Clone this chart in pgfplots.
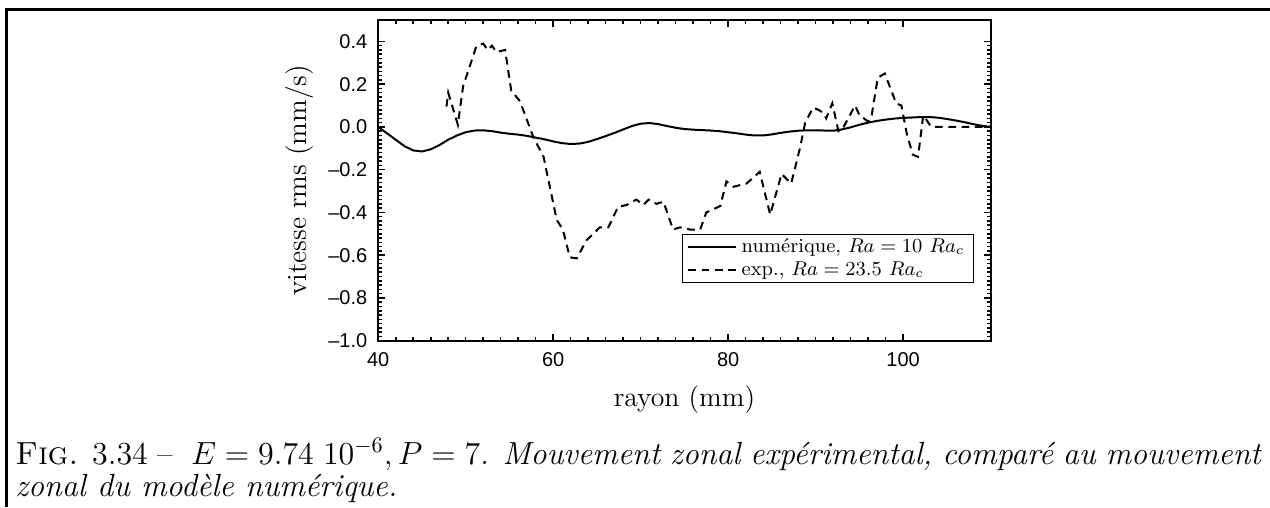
\documentclass[border=0pt]{standalone}
\usepackage{fontspec}
\usepackage{pgfplots}
\pgfplotsset{compat=1.18}
\newfontfamily\tickfont{Liberation Sans}
\begin{document}
\begin{tikzpicture}
\useasboundingbox (0,0) rectangle (571.5pt,-228.15pt);
\draw[line width=1.2pt] (2.9pt,-228.15pt) -- (2.9pt,-4.2pt) -- (571.5pt,-4.2pt);
\begin{axis}[
  at={(170.2pt,-153.3pt)}, anchor=south west,
  scale only axis, width=275.6pt, height=144.3pt,
  xmin=40, xmax=110, ymin=-1, ymax=0.5,
  xtick={40,60,80,100}, xticklabels={40,60,80,100},
  ytick={-1,-0.8,-0.6,-0.4,-0.2,0,0.2,0.4},
  yticklabels={–1.0,–0.8,–0.6,–0.4,–0.2,0.0,0.2,0.4},
  minor x tick num=9, minor y tick num=9,
  tick align=inside,
  major tick length=3.2pt, minor tick length=1.6pt,
  tick style={black, line width=0.7pt},
  line width=0.9pt,
  ticklabel style={font=\tickfont\fontsize{9}{10}\selectfont},
  yticklabel style={anchor=east, inner sep=0pt, xshift=-4.5pt},
  xticklabel style={anchor=north, inner sep=0pt, yshift=-5pt},
  xlabel={rayon (mm)},
  ylabel={vitesse rms (mm/s)},
  label style={font=\fontsize{12.5}{15}\selectfont},
  xlabel style={at={(axis description cs:0.5,-0.2037)}, anchor=base},
  ylabel style={at={(axis description cs:-0.1165,0.5)}, anchor=base},
  legend style={at={(axis description cs:0.9728,0.1795)}, anchor=south east,
    draw=black, line width=0.5pt, font=\fontsize{9}{10}\selectfont,
    inner xsep=2pt, inner ysep=0.2pt, row sep=0pt, cells={anchor=west},
    nodes={inner ysep=0.9pt, text height=0.68em, text depth=0.2em}},
  legend image code/.code={\draw[#1] (0pt,0pt) -- (21.6pt,0pt);},
]
\addplot[black, line width=0.9pt, solid] coordinates {
(40,0.0) (41,-0.03) (42,-0.06) (43,-0.09) (44,-0.11) (45,-0.115) (46,-0.105)
(47,-0.085) (48,-0.06) (49,-0.04) (50,-0.025) (51,-0.017) (52,-0.016) (53,-0.02)
(54,-0.027) (55,-0.032) (56,-0.036) (57,-0.042) (58,-0.05) (59,-0.058) (60,-0.068)
(61,-0.076) (62,-0.08) (63,-0.078) (64,-0.07) (65,-0.057) (66,-0.043) (67,-0.028)
(68,-0.012) (69,0.004) (70,0.015) (71,0.018) (72,0.013) (73,0.004) (74,-0.004)
(75,-0.01) (76,-0.013) (77,-0.015) (78,-0.017) (79,-0.02) (80,-0.025) (81,-0.03)
(82,-0.036) (83,-0.04) (84,-0.04) (85,-0.035) (86,-0.028) (87,-0.022) (88,-0.018)
(89,-0.016) (90,-0.016) (91,-0.017) (92,-0.018) (93,-0.012) (94,-0.002) (95,0.01)
(96,0.02) (97,0.028) (98,0.034) (99,0.039) (100,0.042) (101,0.044) (102,0.046)
(103,0.046) (104,0.043) (105,0.037) (106,0.03) (107,0.022) (108,0.013) (109,0.005)
(110,0.0)
};
\addlegendentry{numérique, $Ra = 10\ Ra_c$}
\addplot[black, line width=0.9pt, dash pattern=on 3.5pt off 2.5pt] coordinates {
(47.8,0.095) (48.0,0.16) (49.1,0.01) (49.7,0.19) (51.2,0.375) (52.0,0.39)
(52.5,0.36) (53.0,0.38) (53.5,0.35) (54.5,0.36) (55.2,0.17) (56.2,0.12)
(57.7,-0.045) (58.9,-0.14) (60.4,-0.435) (61.1,-0.48) (61.9,-0.61) (62.7,-0.615)
(63.8,-0.53) (64.6,-0.50) (65.3,-0.47) (66.3,-0.47) (67.4,-0.375) (68.4,-0.365)
(69.5,-0.34) (70.3,-0.365) (70.9,-0.34) (71.8,-0.36) (72.6,-0.35) (73.7,-0.48)
(74.5,-0.47) (75.6,-0.48) (76.8,-0.48) (77.5,-0.40) (79.1,-0.37) (79.8,-0.255)
(80.6,-0.28) (82.1,-0.265) (83.6,-0.21) (84.8,-0.41) (86.1,-0.22) (87.2,-0.265)
(88.2,-0.10) (88.8,0.02) (89.7,0.09) (90.3,0.08) (90.9,0.065) (91.2,0.04)
(91.9,0.11) (92.6,-0.02) (93.1,-0.007) (94.5,0.10) (95.0,0.055) (96.0,0.025)
(96.4,0.055) (97.1,0.23) (97.9,0.25) (99.2,0.11) (99.8,0.10) (100.4,-0.03)
(101.1,-0.13) (101.7,-0.14) (102.3,0.055) (103.2,0.0) (110.0,0.0)
};
\addlegendentry{exp., $Ra = 23.5\ Ra_c$}
\end{axis}
\node[anchor=base west, inner sep=0pt] at (6.75pt,-208.8pt) {\fontsize{14.4}{17}\selectfont\hbox to 561pt{\textsc{Fig.} 3.34 -- \ $E = 9.74\ 10^{-6}, P = 7$. \textit{Mouvement zonal expérimental, comparé au mouvement}}};
\node[anchor=base west, inner sep=0pt] at (6.75pt,-223.6pt) {\fontsize{14.4}{17}\selectfont\textit{zonal du modèle numérique.}};
\end{tikzpicture}
\end{document}
